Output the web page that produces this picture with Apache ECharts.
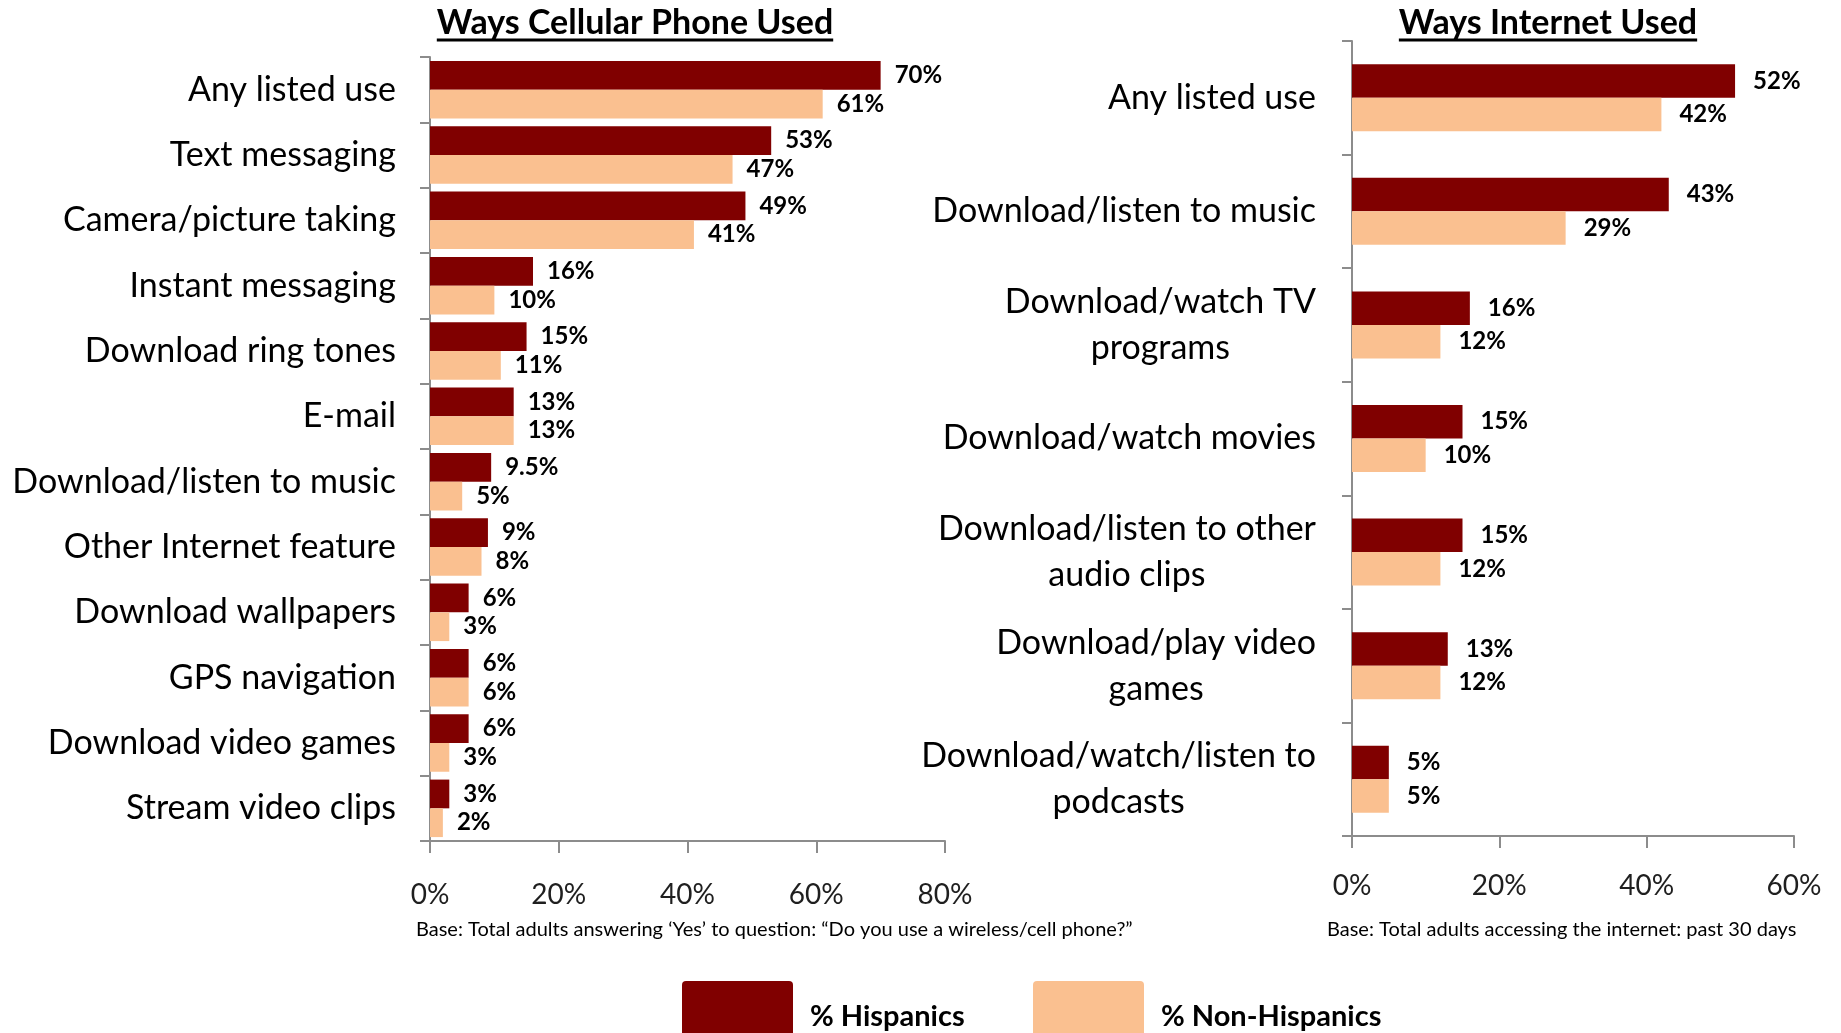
<!DOCTYPE html>
<html>
<head>
<meta charset="utf-8">
<script src="https://cdn.jsdelivr.net/npm/echarts@6/dist/echarts.min.js"></script>
<style>
  html, body { margin: 0; padding: 0; background: #ffffff; }
  #chart { width: 1841px; height: 1033px; }
</style>
</head>
<body>
<div id="chart"></div>
<script>
// ---- Ways cellular phone used (percent of adults) ----
const phoneCategories = [
  'Any listed use', 'Text messaging', 'Camera/picture taking', 'Instant messaging',
  'Download ring tones', 'E-mail', 'Download/listen to music', 'Other Internet feature',
  'Download wallpapers', 'GPS navigation', 'Download video games', 'Stream video clips'
];
const phoneHispanic    = [70, 53, 49, 16, 15, 13, 9.5, 9, 6, 6, 6, 3];
const phoneNonHispanic = [61, 47, 41, 10, 11, 13, 5, 8, 3, 6, 3, 2];

// ---- Ways internet used (percent of adults) ----
const internetCategories = [
  'Any listed use', 'Download/listen to music', 'Download/watch TV\nprograms',
  'Download/watch movies', 'Download/listen to other\naudio clips',
  'Download/play video\ngames', 'Download/watch/listen to\npodcasts'
];
const internetHispanic    = [52, 43, 16, 15, 15, 13, 5];
const internetNonHispanic = [42, 29, 12, 10, 12, 12, 5];

// ---- Axis scales ----
const phoneAxisMax = 80;
const internetAxisMax = 60;
const axisStep = 20;

const seriesNames = ['% Hispanics', '% Non-Hispanics'];
const titles = ['Ways Cellular Phone Used', 'Ways Internet Used'];
const baseNotes = [
  'Base: Total adults answering \u2018Yes\u2019 to question: \u201cDo you use a wireless/cell phone?\u201d',
  'Base: Total adults accessing the internet: past 30 days'
];

// ---- Styling ----
const FONT = 'Lato, "Open Sans", "Liberation Sans", sans-serif';
const HISP_COLOR = '#800000';
const NONHISP_COLOR = '#FAC090';
const AXIS_GRAY = '#8c8c8c';
const CAT_SIZE = 34;
const VALUE_SIZE = 24;
const TICK_SIZE = 28;

const measureCtx = document.createElement('canvas').getContext('2d');
function textWidth(text, font) {
  measureCtx.font = font;
  return measureCtx.measureText(text).width;
}

function valueAxis(gridIndex, max, margin) {
  return {
    type: 'value', gridIndex, min: 0, max, interval: axisStep,
    axisLine: { show: true, lineStyle: { color: AXIS_GRAY, width: 2 } },
    axisTick: { show: true, length: 12, lineStyle: { color: AXIS_GRAY, width: 2 } },
    splitLine: { show: false },
    axisLabel: {
      formatter: '{value}%', margin, color: '#1f1f1f',
      fontFamily: FONT, fontSize: TICK_SIZE
    }
  };
}

function categoryAxis(gridIndex, data, margin, centered) {
  const label = {
    interval: 0, margin, color: '#000', fontFamily: FONT, fontSize: CAT_SIZE,
    align: 'right'
  };
  if (centered) {
    // multi-line labels: lines centred on each other, block right-aligned to the axis
    label.formatter = v => v.split('\n').map(l => '{c|' + l + '}').join('\n');
    label.rich = { c: { align: 'center', fontFamily: FONT, fontSize: CAT_SIZE, color: '#000', lineHeight: 46 } };
  }
  return {
    type: 'category', gridIndex, data, inverse: true,
    axisLine: { show: true, lineStyle: { color: AXIS_GRAY, width: 2 } },
    axisTick: { show: true, length: 10, lineStyle: { color: AXIS_GRAY, width: 2 } },
    splitLine: { show: false },
    axisLabel: label
  };
}

function barSeries(name, data, axisIndex, color, gap, distance) {
  return {
    type: 'bar', name, data,
    xAxisIndex: axisIndex, yAxisIndex: axisIndex,
    barGap: '0%', barCategoryGap: gap,
    itemStyle: { color },
    label: {
      show: true, position: 'right', distance,
      formatter: p => p.value + '%',
      color: '#000', fontWeight: 'bold', fontFamily: FONT, fontSize: VALUE_SIZE
    },
    emphasis: { disabled: true },
    animation: false
  };
}

const titleFont = 'bold 34px ' + FONT;
const titleCenters = [635, 1548];
const graphics = [];
titles.forEach((t, i) => {
  const w = textWidth(t, titleFont);
  graphics.push({
    type: 'text', x: titleCenters[i], y: 23,
    style: { text: t, font: titleFont, fill: '#000', align: 'center', verticalAlign: 'middle' }
  });
  graphics.push({
    type: 'line',
    shape: { x1: titleCenters[i] - w / 2, y1: 40, x2: titleCenters[i] + w / 2, y2: 40 },
    style: { stroke: '#000', lineWidth: 3 }
  });
});
const noteLefts = [416, 1327];
baseNotes.forEach((t, i) => {
  graphics.push({
    type: 'text', x: noteLefts[i], y: 930,
    style: { text: t, font: '20px ' + FONT, fill: '#000', align: 'left', verticalAlign: 'middle' }
  });
});

// legend swatch: rectangle with slightly rounded corners
const SWATCH = 'path://M4,0H107Q111,0,111,4V68Q111,72,107,72H4Q0,72,0,68V4Q0,0,4,0Z';
function legendFor(name, left) {
  return {
    data: [name], left, top: 981, padding: 0,
    icon: SWATCH, itemWidth: 111, itemHeight: 72,
    itemStyle: { borderWidth: 0 },
    selectedMode: false,
    textStyle: { fontFamily: FONT, fontSize: 29, fontWeight: 'bold', color: '#000', padding: [0, 0, 0, 12] }
  };
}

const chart = echarts.init(document.getElementById('chart'), null, { renderer: 'canvas' });
chart.setOption({
  backgroundColor: '#ffffff',
  animation: false,
  textStyle: { fontFamily: FONT },
  grid: [
    { left: 430, top: 57, width: 515, height: 784, containLabel: false, outerBoundsMode: 'none' },
    { left: 1352, top: 41, width: 442, height: 795, containLabel: false, outerBoundsMode: 'none' }
  ],
  xAxis: [valueAxis(0, phoneAxisMax, 40), valueAxis(1, internetAxisMax, 36)],
  yAxis: [categoryAxis(0, phoneCategories, 34, false), categoryAxis(1, internetCategories, 36, true)],
  legend: [legendFor(seriesNames[0], 682), legendFor(seriesNames[1], 1033)],
  series: [
    barSeries(seriesNames[0], phoneHispanic, 0, HISP_COLOR, '12%', 14),
    barSeries(seriesNames[1], phoneNonHispanic, 0, NONHISP_COLOR, '12%', 14),
    barSeries(seriesNames[0], internetHispanic, 1, HISP_COLOR, '41%', 18),
    barSeries(seriesNames[1], internetNonHispanic, 1, NONHISP_COLOR, '41%', 18)
  ],
  graphic: graphics
});
</script>
</body>
</html>
